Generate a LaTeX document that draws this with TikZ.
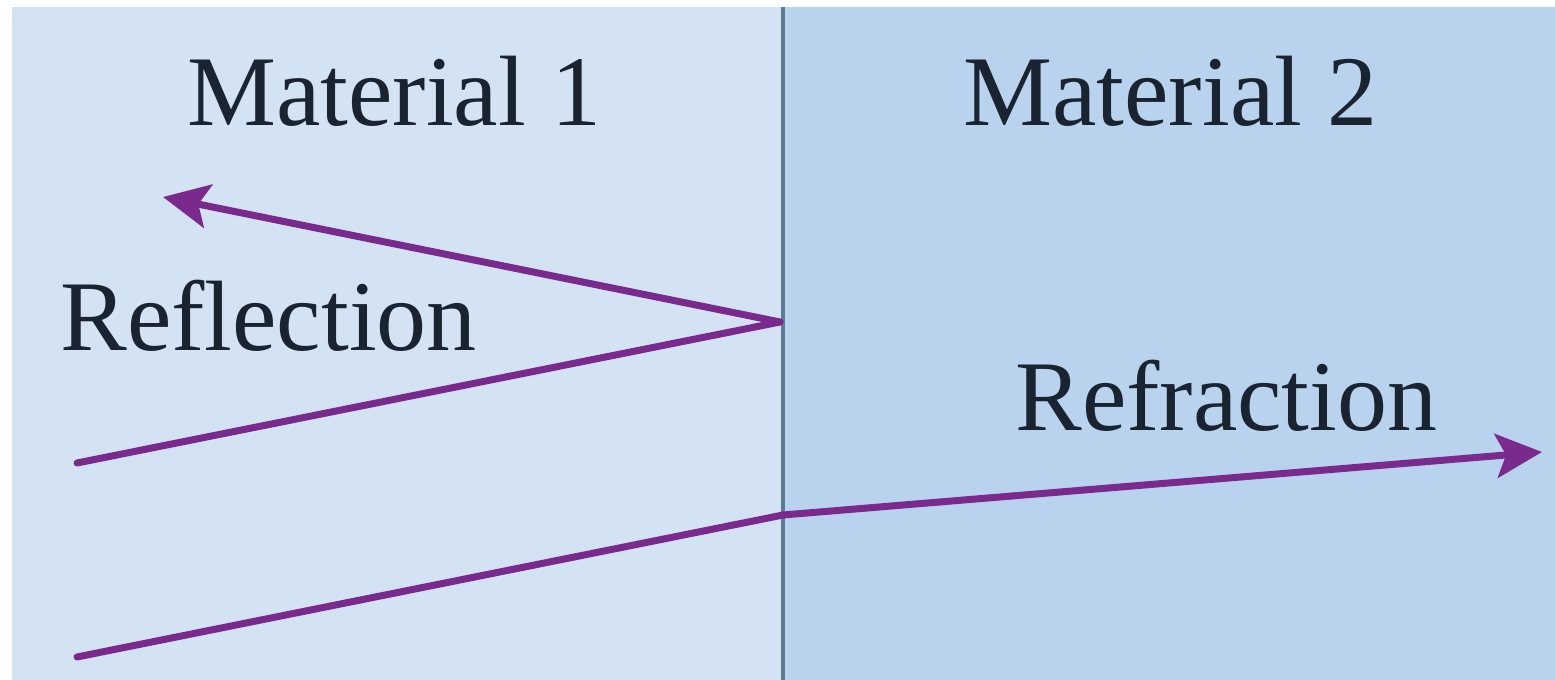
\documentclass[tikz,border=0pt]{standalone}
\usepackage{fontspec}
\setmainfont{Liberation Serif}
\usetikzlibrary{arrows.meta}
\definecolor{matone}{HTML}{D3E3F3}
\definecolor{mattwo}{HTML}{B9D3EE}
\definecolor{divcol}{HTML}{5F7A94}
\definecolor{raycol}{HTML}{7A2A8C}
\definecolor{txtcol}{HTML}{1A2430}
\tikzset{
  lbl/.style={anchor=base west, inner sep=0pt, text=txtcol, font=\fontsize{50}{56}\selectfont},
  ray/.style={draw=raycol, line width=3.5pt, line cap=round, line join=round},
  rayarrow/.style={ray, -{Stealth[length=23pt,width=22pt,inset=5pt]}}
}
\begin{document}
\begin{tikzpicture}[x=0.5pt,y=-0.5pt]
\useasboundingbox (0,0) rectangle (1555,680);
\fill[white] (0,0) rectangle (1555,680);
\fill[matone] (12,7) rectangle (783,680);
\fill[mattwo] (783,7) rectangle (1555,680);
\draw[divcol, line width=2pt] (783,7) -- (783,680);
\node[lbl] (m1) at (187,125) {Material 1};
\node[lbl] (m2) at (963,125) {Material 2};
\node[lbl] (refl) at (60,350) {Reflection};
\node[lbl] (refr) at (1015,430) {Refraction};
\coordinate (a0) at (77,463);
\coordinate (hit1) at (780,322);
\coordinate (a1) at (163,197);
\coordinate (b0) at (77,657);
\coordinate (hit2) at (783,515);
\coordinate (b1) at (1542,452);
\draw[ray] (a0) -- (hit1);
\draw[rayarrow] (hit1) -- (a1);
\draw[ray] (b0) -- (hit2);
\draw[rayarrow] (hit2) -- (b1);
\end{tikzpicture}
\end{document}
